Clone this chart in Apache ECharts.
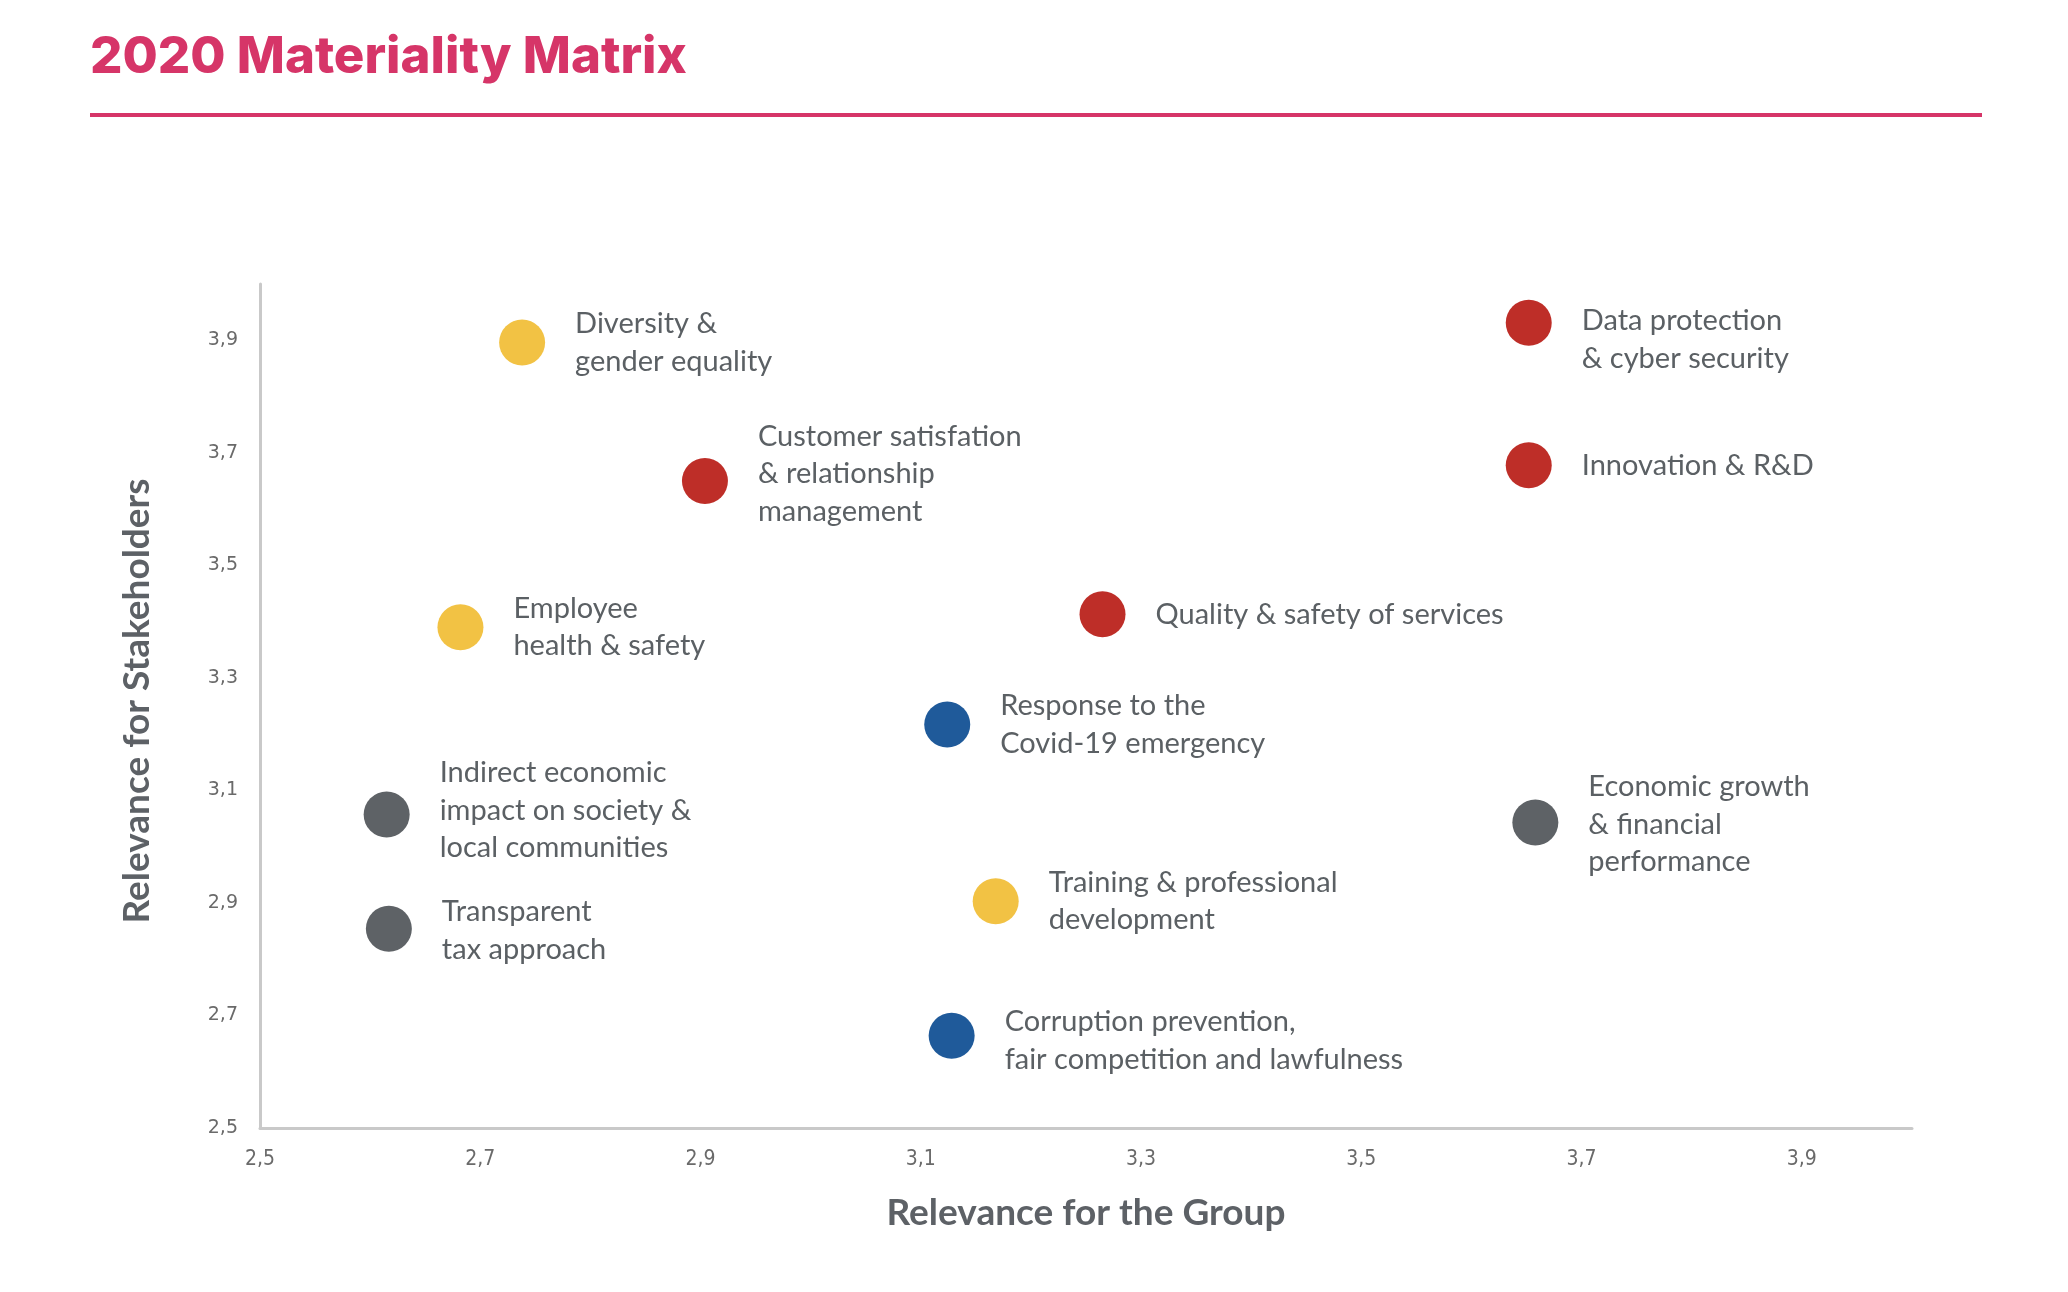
<!DOCTYPE html>
<html>
<head>
<meta charset="utf-8">
<script src="https://cdn.jsdelivr.net/npm/echarts@6/dist/echarts.min.js"></script>
<style>
  html, body { margin: 0; padding: 0; background: #ffffff; }
  #chart { width: 2068px; height: 1292px; }
</style>
</head>
<body>
<div id="chart"></div>
<script>
// ---- Data ----
const titleText = '2020 Materiality Matrix';
const xAxisName = 'Relevance for the Group';
const yAxisName = 'Relevance for Stakeholders';
const tickLabels = ['2,5', '2,7', '2,9', '3,1', '3,3', '3,5', '3,7', '3,9'];

const topics = [
  'Diversity &\ngender equality',
  'Customer satisfation\n& relationship\nmanagement',
  'Employee\nhealth & safety',
  'Quality & safety of services',
  'Response to the\nCovid-19 emergency',
  'Indirect economic\nimpact on society &\nlocal communities',
  'Transparent\ntax approach',
  'Training & professional\ndevelopment',
  'Corruption prevention,\nfair competition and lawfulness',
  'Data protection\n& cyber security',
  'Innovation & R&D',
  'Economic growth\n& financial\nperformance'
];
const groupRelevance =       [2.738, 2.904, 2.682, 3.265, 3.124, 2.615, 2.617, 3.168, 3.128, 3.652, 3.652, 3.658];
const stakeholderRelevance = [3.896, 3.650, 3.390, 3.413, 3.217, 3.057, 2.854, 2.903, 2.664, 3.931, 3.678, 3.043];
const topicCategory = ['People', 'Customers', 'People', 'Customers', 'Governance', 'Economic',
                       'Economic', 'People', 'Governance', 'Customers', 'Customers', 'Economic'];
const categories = ['People', 'Customers', 'Governance', 'Economic'];

// ---- Styles ----
const categoryColors = {
  People: '#F2C244',
  Customers: '#BE2E28',
  Governance: '#1F5A9A',
  Economic: '#5E6266'
};
const labelOffsets = {
  'Data protection\n& cyber security': [0, 17],
  'Customer satisfation\n& relationship\nmanagement': [0, -7],
  'Indirect economic\nimpact on society &\nlocal communities': [0, -4],
  'Corruption prevention,\nfair competition and lawfulness': [0, 5],
  'Transparent\ntax approach': [0, 2],
  'Economic growth\n& financial\nperformance': [0, 2]
};
const textColor = '#5b6064';
const accent = '#D63568';

const series = categories.map(cat => ({
  name: cat,
  type: 'scatter',
  symbol: 'circle',
  symbolSize: 46,
  itemStyle: { color: categoryColors[cat], opacity: 1 },
  label: {
    show: true,
    position: 'right',
    distance: 30,
    formatter: p => p.data.name,
    color: textColor,
    fontFamily: 'Lato',
    fontSize: 29,
    lineHeight: 37.5,
    align: 'left',
    verticalAlign: 'middle'
  },
  emphasis: { disabled: true },
  data: topics.map((t, i) => ({ t, i })).filter(o => topicCategory[o.i] === cat).map(o => {
    const d = { name: o.t, value: [groupRelevance[o.i], stakeholderRelevance[o.i]] };
    if (labelOffsets[o.t]) d.label = { offset: labelOffsets[o.t] };
    return d;
  })
}));

function fmt(v) {
  const s = (Math.round(v * 10) / 10).toFixed(1).replace('.', ',');
  return tickLabels.indexOf(s) >= 0 ? s : '';
}

const chart = echarts.init(document.getElementById('chart'), null, { renderer: 'canvas' });
chart.setOption({
  backgroundColor: '#ffffff',
  animation: false,
  graphic: [
    {
      type: 'text',
      left: 90,
      top: 32,
      style: {
        text: titleText,
        fill: accent,
        font: '800 51px Inter'
      }
    },
    {
      type: 'rect',
      left: 90,
      top: 113,
      shape: { width: 1892, height: 4 },
      style: { fill: accent }
    }
  ],
  grid: { left: 260, right: 2068 - 1912, top: 284, bottom: 1292 - 1128, containLabel: false },
  xAxis: {
    type: 'value',
    min: 2.5,
    max: 4.0,
    interval: 0.1,
    name: xAxisName,
    nameLocation: 'middle',
    nameGap: 67,
    nameTextStyle: { color: '#5d6166', fontFamily: 'Lato', fontWeight: 'bold', fontSize: 37 },
    axisLine: { show: true, lineStyle: { color: '#c9c9c9', width: 3 } },
    axisTick: { show: false },
    splitLine: { show: false },
    axisLabel: {
      formatter: fmt,
      margin: 21,
      color: '#6a6a6a',
      fontFamily: 'DejaVu Sans Condensed',
      fontSize: 21,
      showMaxLabel: false
    }
  },
  yAxis: {
    type: 'value',
    min: 2.5,
    max: 4.0,
    interval: 0.1,
    name: yAxisName,
    nameLocation: 'middle',
    nameGap: 104,
    nameRotate: 90,
    nameTextStyle: { color: '#5d6166', fontFamily: 'Lato', fontWeight: 'bold', fontSize: 37, padding: [0, 0, 0, 10] },
    axisLine: { show: true, lineStyle: { color: '#c9c9c9', width: 3 } },
    axisTick: { show: false },
    splitLine: { show: false },
    axisLabel: {
      formatter: fmt,
      margin: 22,
      color: '#6a6a6a',
      fontFamily: 'DejaVu Sans',
      fontSize: 19,
      showMaxLabel: false
    }
  },
  series: series
});
</script>
</body>
</html>
